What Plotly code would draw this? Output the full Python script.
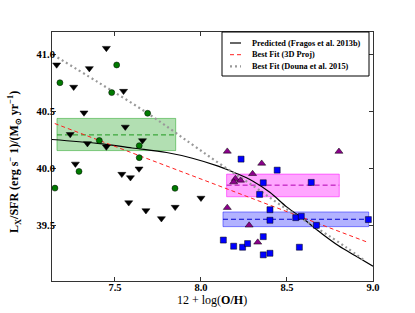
import plotly.graph_objects as go

# ---------------- data ----------------
green_x = [7.180, 7.510, 7.481, 7.690, 7.409, 7.641, 7.641, 7.291, 7.151, 7.849]
green_y = [40.754, 40.910, 40.667, 40.485, 40.246, 40.200, 40.095, 39.974, 39.827, 39.825]

black_x = [7.161, 7.450, 7.351, 7.260, 7.550, 7.320, 7.560, 7.240, 7.340, 7.450, 7.660,
           7.270, 7.540, 7.590, 7.640, 7.580, 7.680, 7.770, 7.850, 8.000]
black_y = [40.912, 41.058, 40.880, 40.716, 40.680, 40.490, 40.365, 40.300, 40.220, 40.190, 40.246,
           40.040, 39.950, 39.920, 39.997, 39.700, 39.630, 39.560, 39.660, 39.740]

purple_x = [8.153, 8.802, 8.353, 8.300, 8.200, 8.190, 8.230, 8.153, 8.280, 8.330]
purple_y = [40.150, 40.149, 40.044, 39.953, 39.910, 39.880, 39.895, 39.655, 39.500, 39.350]

blue_x = [8.233, 8.443, 8.362, 8.641, 8.341, 8.401, 8.401, 8.551, 8.583, 8.671, 8.973,
          8.130, 8.190, 8.242, 8.271, 8.362, 8.362, 8.401, 8.572]
blue_y = [40.082, 39.985, 39.874, 39.877, 39.772, 39.637, 39.544, 39.567, 39.579, 39.500, 39.550,
          39.370, 39.316, 39.307, 39.339, 39.400, 39.240, 39.254, 39.307]

pred_x = [7.13, 7.40, 7.60, 7.80, 7.95, 8.10, 8.20, 8.30, 8.40, 8.50, 8.60, 8.70, 8.80, 8.90, 9.00]
pred_y = [40.255, 40.220, 40.180, 40.140, 40.090, 40.020, 39.960, 39.890, 39.790, 39.660, 39.550,
          39.430, 39.320, 39.230, 39.140]

fit_x = [7.15, 8.97]
fit_y = [40.395, 39.350]

douna_x = [7.14, 7.40, 7.69, 7.94, 8.12, 8.31, 8.48, 8.69, 8.84, 8.95]
douna_y = [41.00, 40.76, 40.485, 40.22, 40.03, 39.84, 39.66, 39.46, 39.31, 39.19]

# binned boxes: x-range, y-range (lo, hi) and median
box_x0 = [7.163, 8.149, 8.128]
box_x1 = [7.853, 8.804, 8.975]
box_lo = [40.157, 39.751, 39.488]
box_hi = [40.440, 39.950, 39.617]
box_mid = [40.295, 39.853, 39.553]

legend_labels = ["Predicted (Fragos et al. 2013b)", "Best Fit (3D Proj)", "Best Fit (Douna et al. 2015)"]

x_ticks = [7.5, 8.0, 8.5, 9.0]
y_ticks = [39.5, 40.0, 40.5, 41.0]

# ---------------- figure ----------------
W, H = 415, 313
L, R, T, B = 52, 42, 32, 32
PW, PH = W - L - R, H - T - B

def px(xp):
    return (xp - L) / PW

def py(yp):
    return (H - B - yp) / PH

SERIF = "Liberation Serif"

fig = go.Figure()

box_fill = ["rgba(0,150,0,0.30)", "rgba(255,0,255,0.35)", "rgba(0,0,255,0.30)"]
box_line = ["rgba(0,150,0,0.45)", "rgba(255,0,255,0.5)", "rgba(0,0,255,0.45)"]
mid_col = ["#1f9a1f", "#b000b0", "#0000cc"]
shapes = []
for i in range(3):
    shapes.append(dict(type="rect", xref="x", yref="y", x0=box_x0[i], x1=box_x1[i],
                       y0=box_lo[i], y1=box_hi[i], fillcolor=box_fill[i],
                       line=dict(color=box_line[i], width=1), layer="below"))
for i in range(3):
    fig.add_trace(go.Scatter(x=[box_x0[i], box_x1[i]], y=[box_mid[i], box_mid[i]], mode="lines",
                             line=dict(color=mid_col[i], width=1, dash="5px,3px"),
                             showlegend=False, hoverinfo="skip"))

fig.add_trace(go.Scatter(x=pred_x, y=pred_y, mode="lines", line=dict(color="black", width=1.2, shape="spline"),
                         name=legend_labels[0], showlegend=False))
fig.add_trace(go.Scatter(x=fit_x, y=fit_y, mode="lines", line=dict(color="#ff2020", width=1, dash="4px,3px"),
                         name=legend_labels[1], showlegend=False))
fig.add_trace(go.Scatter(x=douna_x, y=douna_y, mode="lines",
                         line=dict(color="#999999", width=2.2, dash="2px,3px", shape="spline"),
                         name=legend_labels[2], showlegend=False))

fig.add_trace(go.Scatter(x=black_x, y=black_y, mode="markers",
                         marker=dict(symbol="triangle-down", size=7, color="black",
                                     line=dict(color="black", width=0.5)), showlegend=False))
fig.add_trace(go.Scatter(x=green_x, y=green_y, mode="markers",
                         marker=dict(symbol="circle", size=6, color="#007a00",
                                     line=dict(color="black", width=0.5)), showlegend=False))
fig.add_trace(go.Scatter(x=purple_x, y=purple_y, mode="markers",
                         marker=dict(symbol="triangle-up", size=7, color="#8b008b",
                                     line=dict(color="black", width=0.5)), showlegend=False))
fig.add_trace(go.Scatter(x=blue_x, y=blue_y, mode="markers",
                         marker=dict(symbol="square", size=6, color="#0000ff",
                                     line=dict(color="black", width=0.5)), showlegend=False))

# manual legend
lx0, lx1, ly0, ly1 = 222, 369, 32, 76
shapes.append(dict(type="rect", xref="paper", yref="paper", x0=px(lx0), x1=px(lx1),
                   y0=py(ly1), y1=py(ly0), fillcolor="white", line=dict(color="black", width=1)))
rows = [43, 54.7, 66.3]
styles = [dict(color="black", width=1.2),
          dict(color="#ff2020", width=1, dash="4px,3px"),
          dict(color="#999999", width=2.2, dash="2px,3px")]
annotations = []
for i in range(3):
    shapes.append(dict(type="line", xref="paper", yref="paper", x0=px(230), x1=px(241),
                       y0=py(rows[i]), y1=py(rows[i]), line=styles[i]))
    annotations.append(dict(xref="paper", yref="paper", x=px(250), y=py(rows[i]), xanchor="left",
                            yanchor="middle", showarrow=False, text="<b>" + legend_labels[i] + "</b>",
                            font=dict(family=SERIF, size=8.3, color="black")))

annotations.append(dict(xref="paper", yref="paper", x=px(212), y=py(300), xanchor="center", yanchor="middle",
                        showarrow=False, text="12 + log(<b>O/H</b>)",
                        font=dict(family=SERIF, size=12, color="black")))
annotations.append(dict(xref="paper", yref="paper", x=px(14), y=py(162), xanchor="center", yanchor="middle",
                        showarrow=False, textangle=-90,
                        text="<b>L<sub>X</sub>/SFR (erg s<sup>\u2212</sup> 1)/(M<sub>\u2299</sub> yr<sup>\u22121</sup>)</b>",
                        font=dict(family=SERIF, size=12, color="black")))

axis_common = dict(showgrid=False, zeroline=False, showline=True, linecolor="#333333", linewidth=1,
                   mirror="ticks", ticks="inside", ticklen=4, tickcolor="#333333", tickwidth=1,
                   tickfont=dict(family=SERIF, size=10.5, color="black"))

fig.update_layout(
    width=W, height=H, margin=dict(l=L, r=R, t=T, b=B),
    paper_bgcolor="white", plot_bgcolor="white",
    xaxis=dict(range=[7.134, 9.0], tickvals=x_ticks, ticktext=["<b>%.1f</b>" % v for v in x_ticks],
               ticklabelstandoff=-4, **axis_common),
    yaxis=dict(range=[39.01, 41.2], tickvals=y_ticks, ticktext=["<b>%.1f</b>" % v for v in y_ticks],
               ticklabelstandoff=-6, **axis_common),
    shapes=shapes, annotations=annotations, showlegend=False,
)

fig.write_html("out.html", config={"displayModeBar": False},
               post_script="document.body.style.margin='0px';document.body.style.padding='0px';")
